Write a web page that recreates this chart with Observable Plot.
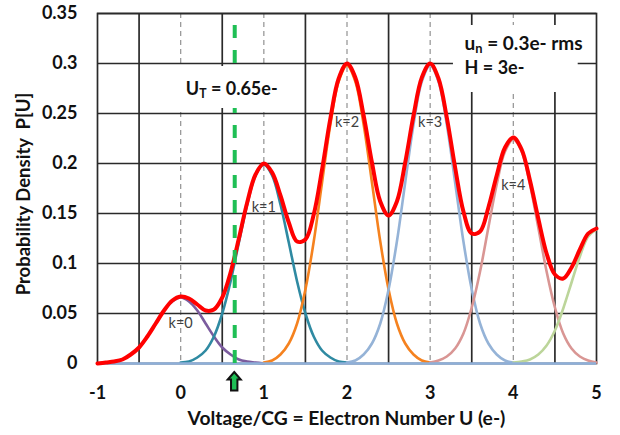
<!DOCTYPE html>
<html>
<head>
<meta charset="utf-8">
<script src="https://cdn.jsdelivr.net/npm/d3@7"></script>
<script src="https://cdn.jsdelivr.net/npm/@observablehq/plot@0.6"></script>
<style>
  html, body { margin: 0; padding: 0; background: #fff; }
  #chart svg { display: block; }
</style>
</head>
<body>
<div id="chart"></div>
<script>
// ---- data ----
// red total curve, x = -1 .. 5 step 0.1
const totalX = [-1.0,-0.9,-0.8,-0.7,-0.6,-0.5,-0.4,-0.3,-0.2,-0.1,
  0.0,0.1,0.2,0.3,0.4,0.5,0.6,0.7,0.8,0.9,
  1.0,1.1,1.2,1.3,1.4,1.5,1.6,1.7,1.8,1.9,
  2.0,2.1,2.2,2.3,2.4,2.5,2.6,2.7,2.8,2.9,
  3.0,3.1,3.2,3.3,3.4,3.5,3.6,3.7,3.8,3.9,
  4.0,4.1,4.2,4.3,4.4,4.5,4.6,4.7,4.8,4.9,5.0];
const totalY = [0.000,0.001,0.002,0.004,0.009,0.016,0.027,0.040,0.053,0.063,
  0.067,0.065,0.059,0.053,0.054,0.066,0.091,0.125,0.161,0.189,
  0.200,0.191,0.168,0.141,0.122,0.124,0.149,0.194,0.245,0.285,
  0.300,0.286,0.248,0.201,0.162,0.148,0.162,0.201,0.248,0.286,
  0.300,0.285,0.246,0.196,0.152,0.130,0.132,0.156,0.188,0.216,
  0.226,0.214,0.183,0.145,0.110,0.089,0.085,0.096,0.114,0.130,0.135];

// each peak k, drawn from k-1 to k+1 (offsets -1 .. 1 step 0.1)
const peakK = [0, 1, 2, 3, 4, 5];
const offsets = [-1.0,-0.9,-0.8,-0.7,-0.6,-0.5,-0.4,-0.3,-0.2,-0.1,0,
  0.1,0.2,0.3,0.4,0.5,0.6,0.7,0.8,0.9,1.0];
const peak0 = [0.000,0.001,0.002,0.004,0.009,0.016,0.027,0.040,0.053,0.062,0.066,0.062,0.053,0.040,0.027,0.016,0.009,0.004,0.002,0.001,0.000];
const peak1 = [0.001,0.002,0.006,0.013,0.027,0.050,0.082,0.121,0.159,0.188,0.199,0.188,0.159,0.121,0.082,0.050,0.027,0.013,0.006,0.002,0.001];
const peak2 = [0.001,0.003,0.009,0.020,0.040,0.074,0.122,0.181,0.239,0.282,0.298,0.282,0.239,0.181,0.122,0.074,0.040,0.020,0.009,0.003,0.001];
const peak3 = [0.001,0.003,0.009,0.020,0.040,0.074,0.122,0.181,0.239,0.282,0.298,0.282,0.239,0.181,0.122,0.074,0.040,0.020,0.009,0.003,0.001];
const peak4 = [0.001,0.003,0.007,0.015,0.030,0.056,0.092,0.136,0.179,0.212,0.224,0.212,0.179,0.136,0.092,0.056,0.030,0.015,0.007,0.003,0.001];
const peak5 = [0.001,0.002,0.004,0.009,0.018,0.033,0.055,0.081,0.107,0.127,0.134];
const peakValues = [peak0, peak1, peak2, peak3, peak4, peak5];
const peakColors = ["#7b5c9e", "#2f8aa2", "#f5821f", "#95b3d7", "#d99694", "#bcd59a"];

const kLabels = ["k=0", "k=1", "k=2", "k=3", "k=4"];
const kLabelX = [0, 1, 2, 3, 4];
const kLabelY = [0.040, 0.156, 0.241, 0.241, 0.178];

const xTicks = [-1, 0, 1, 2, 3, 4, 5];
const xTickLabels = ["-1", "0", "1", "2", "3", "4", "5"];
const yTicks = [0, 0.05, 0.1, 0.15, 0.2, 0.25, 0.3, 0.35];
const yTickLabels = ["0", "0.05", "0.1", "0.15", "0.2", "0.25", "0.3", "0.35"];
const solidGridX = [-0.5, 0.5, 1.5, 2.5, 3.5, 4.5];
const dashedGridX = [0, 1, 2, 3, 4];

const threshold = 0.65;
const thresholdTop = 0.338;
const noteUT = ["U", "T", " = 0.65e-"];
const noteUn = ["u", "n", " = 0.3e- rms"];
const noteH = "H = 3e-";
const xLabel = "Voltage/CG = Electron Number U (e-)";
const yLabel = "Probability Density  P[U]";

// ---- build tables ----
const total = totalX.map((x, i) => ({x, y: totalY[i]}));
const comps = [];
peakK.forEach((k, j) => {
  peakValues[j].forEach((v, i) => {
    const x = +(k + offsets[i]).toFixed(2);
    comps.push({k, x, y: v});
  });
});
const labels = kLabels.map((t, i) => ({t, x: kLabelX[i], y: kLabelY[i]}));

const FONT = "Lato, 'Open Sans', sans-serif";

const chart = Plot.plot({
  width: 620,
  height: 435,
  marginLeft: 97,
  marginRight: 24,
  marginTop: 13,
  marginBottom: 72,
  style: {fontFamily: FONT, background: "#fff", overflow: "visible"},
  x: {domain: [-1, 5]},
  y: {domain: [0, 0.35]},
  marks: [
    Plot.ruleX(dashedGridX, {stroke: "#9a9a9a", strokeWidth: 1.3, strokeDasharray: "5,4"}),
    Plot.ruleX(solidGridX, {stroke: "#2a2a2a", strokeWidth: 1.7}),
    Plot.ruleY(yTicks.slice(1), {stroke: "#2a2a2a", strokeWidth: 1.7}),
    Plot.frame({stroke: "#2a2a2a", strokeWidth: 1.7}),
    Plot.line(comps, {x: "x", y: "y", z: "k",
      stroke: d => peakColors[d.k], strokeWidth: 2.6, curve: "catmull-rom"}),
    Plot.ruleY([0], {stroke: "#8eafd9", strokeWidth: 2.5}),
    Plot.line(total, {x: "x", y: "y", stroke: "#ff0000", strokeWidth: 4, curve: "catmull-rom"}),
    Plot.ruleX([threshold], {y1: 0, y2: thresholdTop, stroke: "#1fbf55", strokeWidth: 4, strokeDasharray: "13,12"}),
    Plot.text(labels, {x: "x", y: "y", text: "t", fontSize: 14.5, fill: "#404040", fontFamily: FONT}),
    Plot.axisX(xTicks, {tickSize: 0, tickPadding: 23, fontSize: 18, fontWeight: "bold", fill: "#111", label: null,
      tickFormat: (d, i) => xTickLabels[i]}),
    Plot.axisY(yTicks, {tickSize: 0, tickPadding: 20, fontSize: 18, fontWeight: "bold", fill: "#111",
      tickFormat: (d, i) => yTickLabels[i], label: null})
  ]
});

document.getElementById("chart").appendChild(chart);

// ---- annotations placed through the chart's scales ----
const sx = chart.scale("x"), sy = chart.scale("y");
const svg = d3.select(chart);
const px = v => sx.apply(v), py = v => sy.apply(v);

// white note boxes covering the grid
const layerNotes = svg.append("g");
function note(x0, y0, x1, y1) {
  layerNotes.append("rect")
    .attr("x", px(x0)).attr("y", py(y1))
    .attr("width", px(x1) - px(x0)).attr("height", py(y0) - py(y1))
    .attr("fill", "#fff");
}
const boxUT = [-0.12, 0.255, 1.34, 0.297];
const boxNoise = [3.28, 0.271, 4.78, 0.338];
note(...boxUT);
note(...boxNoise);

function subText(parts, xv, yv, anchor, size) {
  const t = layerNotes.append("text")
    .attr("x", px(xv)).attr("y", py(yv))
    .attr("text-anchor", anchor)
    .attr("dominant-baseline", "middle")
    .attr("font-family", FONT).attr("font-weight", "bold").attr("font-size", size).attr("fill", "#111");
  t.append("tspan").text(parts[0]);
  t.append("tspan").attr("font-size", size * 0.68).attr("dy", 5).text(parts[1]);
  t.append("tspan").attr("dy", -5).text(parts[2]);
}
subText(noteUT, 0.62, 0.2735, "middle", 18);
subText(noteUn, 3.42, 0.318, "start", 19);
layerNotes.append("text")
  .attr("x", px(3.42)).attr("y", py(0.2935))
  .attr("text-anchor", "start")
  .attr("dominant-baseline", "middle")
  .attr("font-family", FONT).attr("font-weight", "bold").attr("font-size", 18).attr("fill", "#111")
  .text(noteH);

// block arrow below the axis at the threshold
const ax = px(threshold), ay = py(0) + 9;
svg.append("path")
  .attr("d", `M${ax},${ay} l6.5,7.5 h-3.3 v11 h-6.4 v-11 h-3.3 z`)
  .attr("fill", "#1fbf55").attr("stroke", "#111").attr("stroke-width", 2).attr("stroke-linejoin", "miter");

// axis titles
svg.append("text")
  .attr("x", (px(-1) + px(5)) / 2).attr("y", 420)
  .attr("text-anchor", "middle").attr("dominant-baseline", "middle")
  .attr("font-family", FONT).attr("font-weight", "bold").attr("font-size", 19.3).attr("fill", "#111")
  .text(xLabel);
svg.append("text")
  .attr("transform", `translate(25,${(py(0) + py(0.35)) / 2 + 6}) rotate(-90)`)
  .attr("text-anchor", "middle").attr("dominant-baseline", "middle")
  .attr("font-family", FONT).attr("font-weight", "bold").attr("font-size", 18.5).attr("fill", "#111")
  .text(yLabel);
</script>
</body>
</html>
